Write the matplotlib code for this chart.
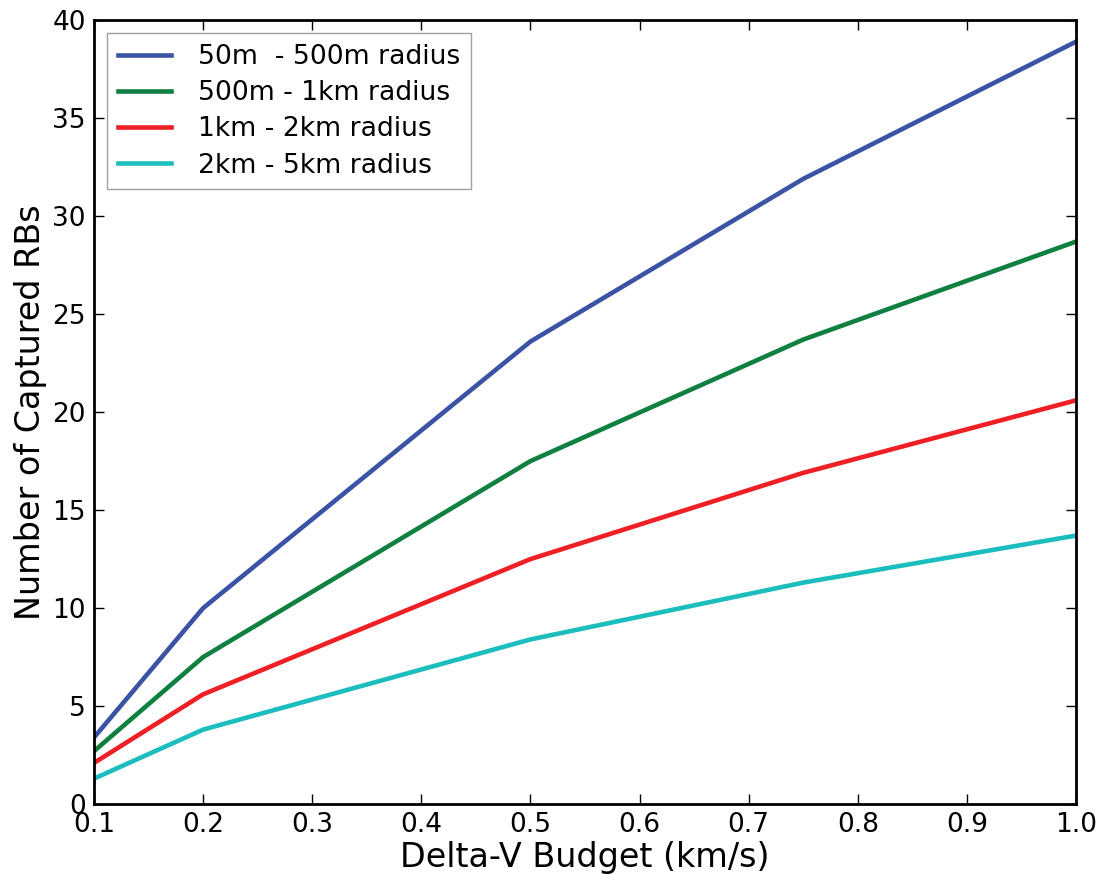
import numpy as np
import matplotlib
matplotlib.use('Agg')
import matplotlib.pyplot as plt

# Delta-V budget (km/s) and captured RBs per radius class
delta_v = [0.1, 0.2, 0.5, 0.75, 1.0]
rb_50m_500m = [3.4, 10.0, 23.6, 31.9, 38.9]
rb_500m_1km = [2.7, 7.5, 17.5, 23.7, 28.7]
rb_1km_2km = [2.1, 5.6, 12.5, 16.9, 20.6]
rb_2km_5km = [1.3, 3.8, 8.4, 11.3, 13.7]

labels = ['50m  - 500m radius', '500m - 1km radius', '1km - 2km radius', '2km - 5km radius']
colors = ['#3a53a4', '#0f8040', '#ee1f25', '#1bbdbf']

fig = plt.figure(figsize=(11.01, 8.74), dpi=100)
ax = fig.add_axes([0.0854, 0.080, 0.8919, 0.897])

for series, label, color in zip([rb_50m_500m, rb_500m_1km, rb_1km_2km, rb_2km_5km], labels, colors):
    ax.plot(delta_v, series, color=color, linewidth=3.3, label=label)

ax.set_xlim(0.1, 1.0)
ax.set_ylim(0, 40)
ax.set_xticks(np.arange(0.1, 1.01, 0.1))
ax.set_yticks(range(0, 41, 5))
ax.tick_params(direction='in', top=True, right=True, labelsize=19, length=7, width=1, pad=6)
for spine in ax.spines.values():
    spine.set_linewidth(2)

ax.set_xlabel('Delta-V Budget (km/s)', fontsize=24, labelpad=2)
ax.set_ylabel('Number of Captured RBs', fontsize=24, labelpad=4)

leg = ax.legend(loc='upper left', fontsize=19.2, fancybox=False, handlelength=2.0,
                borderaxespad=0.5, labelspacing=0.38, handletextpad=1.0)
leg.get_frame().set_edgecolor('#888888')

fig.savefig('out.png', dpi=100)
